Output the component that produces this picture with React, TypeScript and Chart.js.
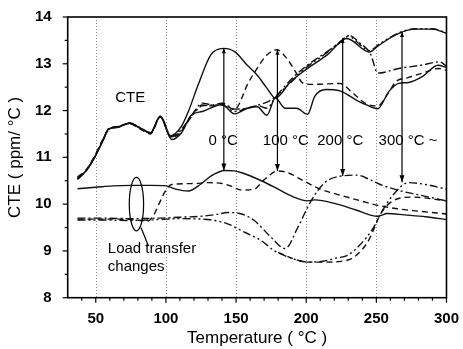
import { useEffect, useRef } from "react";
import { Chart, registerables } from "chart.js";

Chart.register(...registerables);

const FONT = "'Liberation Sans', Arial, Helvetica, sans-serif";

// Axis ticks
const xTickValues = [50, 100, 150, 200, 250, 300];
const gridTemps = [50, 100, 150, 200, 250];
const yTickValues = [8, 9, 10, 11, 12, 13, 14];

// CTE (ppm/°C) versus temperature (°C), one curve per holding condition
const cteRef: [number, number][] = [
  [37, 10.53], [43, 10.71], [49, 10.99], [55, 11.35], [59, 11.6], [66, 11.65], [74, 11.73],
  [82, 11.62], [89, 11.52], [96, 11.88], [104, 11.38], [111, 11.52], [118, 11.9], [126, 11.98],
  [140, 12.13], [149, 11.93], [158, 12.05], [165, 12.08], [172, 11.9], [178, 12.27], [185, 12.05],
  [193, 12.05], [201, 11.92], [206, 12.3], [214, 12.45], [224, 12.42], [236, 12.22], [243, 12.12],
  [251, 12.04], [259, 12.41], [266, 12.58], [273, 12.6], [283, 12.73], [294, 12.97], [300, 12.92],
];
const cte0: [number, number][] = [
  [37, 10.53], [43, 10.71], [49, 10.99], [55, 11.35], [59, 11.6], [66, 11.65], [74, 11.73],
  [82, 11.62], [89, 11.52], [96, 11.88], [103, 11.46], [111, 11.66], [116, 11.98], [123, 12.55],
  [132, 13.19], [141, 13.33], [149, 13.26], [158, 12.97], [165, 12.76], [172, 12.48], [178, 12.27],
  [189, 12.62], [200, 12.88], [215, 13.19], [229, 13.54], [245, 13.25], [252, 13.4], [266, 13.65],
  [278, 13.74], [290, 13.74], [300, 13.65],
];
const cte100: [number, number][] = [
  [37, 10.58], [43, 10.73], [49, 11.02], [55, 11.38], [59, 11.58], [66, 11.66], [74, 11.72],
  [82, 11.6], [89, 11.5], [96, 11.86], [104, 11.42], [111, 11.55], [118, 11.88], [126, 12.12],
  [133, 12.1], [140, 12.15], [149, 12.02], [152, 12.13], [158, 12.55], [165, 12.9], [172, 13.19],
  [179, 13.3], [186, 13.12], [192, 12.85], [198, 12.58], [205, 12.56], [224, 12.58], [233, 12.38],
  [243, 12.14], [251, 12.1], [258, 12.35], [264, 12.62], [272, 12.7], [285, 12.82], [294, 12.9],
  [300, 12.86],
];
const cte200: [number, number][] = [
  [37, 10.56], [43, 10.7], [49, 11.0], [55, 11.36], [59, 11.6], [66, 11.64], [74, 11.74],
  [82, 11.63], [89, 11.53], [96, 11.87], [104, 11.45], [111, 11.6], [118, 11.88], [126, 12.16],
  [133, 12.12], [140, 12.16], [149, 12.03], [158, 12.05], [166, 12.12], [172, 12.18], [178, 12.3],
  [189, 12.66], [200, 12.95], [214, 13.24], [224, 13.45], [231, 13.6], [238, 13.45], [246, 13.2],
  [251, 12.8], [266, 12.9], [282, 12.97], [295, 13.04], [300, 12.95],
];
const cte300: [number, number][] = [
  [37, 10.55], [43, 10.72], [49, 11.0], [55, 11.37], [59, 11.61], [66, 11.66], [74, 11.73],
  [82, 11.62], [89, 11.52], [96, 11.87], [104, 11.44], [111, 11.58], [118, 11.86], [126, 12.1],
  [140, 12.12], [149, 11.98], [158, 12.05], [166, 12.1], [172, 12.05], [178, 12.28], [189, 12.6],
  [200, 12.92], [214, 13.22], [226, 13.52], [230, 13.6], [236, 13.47], [245, 13.28], [252, 13.42],
  [266, 13.66], [278, 13.75], [290, 13.75], [300, 13.66],
];

// Load transfer curves
const load0: [number, number][] = [
  [37, 10.33], [50, 10.36], [62, 10.39], [75, 10.4], [90, 10.4], [100, 10.39], [107, 10.32],
  [116, 10.28], [125, 10.43], [132, 10.6], [142, 10.72], [149, 10.71], [154, 10.67], [168, 10.5],
  [180, 10.32], [189, 10.18], [201, 10.07], [206, 10.09], [222, 10.0], [235, 9.88], [251, 9.74],
  [258, 9.8], [270, 9.77], [285, 9.73], [300, 9.67],
];
const load100: [number, number][] = [
  [37, 9.68], [55, 9.68], [75, 9.67], [87, 9.64], [91, 9.75], [95, 10.0], [100, 10.3],
  [104, 10.42], [120, 10.44], [130, 10.46], [140, 10.44], [146, 10.39], [154, 10.3], [163, 10.32],
  [170, 10.52], [180, 10.71], [187, 10.67], [198, 10.5], [210, 10.32], [222, 10.21], [240, 10.06],
  [250, 9.98], [265, 9.9], [280, 9.85], [300, 9.79],
];
const load200: [number, number][] = [
  [37, 9.7], [55, 9.7], [75, 9.69], [95, 9.7], [110, 9.72], [125, 9.74], [136, 9.78], [144, 9.82],
  [154, 9.79], [163, 9.65], [175, 9.29], [185, 9.05], [194, 9.5], [201, 9.93], [208, 10.28],
  [215, 10.5], [225, 10.6], [236, 10.62], [245, 10.53], [252, 10.43], [265, 10.3], [280, 10.2],
  [300, 10.07],
];
const load300: [number, number][] = [
  [37, 9.66], [55, 9.66], [75, 9.65], [95, 9.67], [110, 9.69], [125, 9.68], [135, 9.65],
  [144, 9.58], [156, 9.4], [168, 9.22], [177, 9.01], [191, 8.83], [201, 8.76], [212, 8.78],
  [222, 8.85], [229, 8.9], [238, 9.12], [248, 9.5], [253, 9.79], [262, 10.2], [273, 10.46],
  [285, 10.42], [300, 10.32],
];
const load300b: [number, number][] = [
  [180, 8.97], [191, 8.83], [201, 8.76], [212, 8.76], [229, 8.8], [243, 9.15], [248, 9.45],
  [253, 9.79], [262, 10.07], [276, 10.15], [300, 10.07],
];

// Arrows from each CTE peak down to the matching load transfer peak
const arrowTemps = [141.3, 179.5, 226, 268.3];
const arrowTop = [13.33, 13.3, 13.55, 13.68];
const arrowBottom = [10.72, 10.71, 10.6, 10.47];

// Condition labels
const condLabels = ["0 °C", "100 °C", "200 °C", "300 °C ~"];
const condLabelX = [130.3, 169.1, 207.9, 251.6];
const condLabelY = 11.36;

const DASHED = [6, 4];
const DASH_DOT = [8, 3, 2, 3];
const DASH_DOT_DOT = [8, 3, 2, 3, 2, 3];

function series(points: [number, number][], dash: number[]) {
  return {
    data: points.map(([x, y]) => ({ x, y })),
    borderColor: "#111",
    borderWidth: 1.4,
    borderDash: dash,
    pointRadius: 0,
    fill: false,
    cubicInterpolationMode: "monotone" as const,
  };
}

const decorPlugin = {
  id: "decor",
  beforeDatasetsDraw(chart: any) {
    const { ctx, chartArea: a, scales } = chart;
    const x = scales.x;
    ctx.save();
    ctx.strokeStyle = "#888";
    ctx.lineWidth = 1;
    ctx.setLineDash([1, 2]);
    for (const t of gridTemps) {
      const px = Math.round(x.getPixelForValue(t)) + 0.5;
      ctx.beginPath();
      ctx.moveTo(px, a.top);
      ctx.lineTo(px, a.bottom);
      ctx.stroke();
    }
    ctx.restore();
  },
  afterDatasetsDraw(chart: any) {
    const { ctx, chartArea: a, scales } = chart;
    const x = scales.x;
    const y = scales.y;
    ctx.save();
    ctx.setLineDash([]);
    ctx.strokeStyle = "#000";
    ctx.fillStyle = "#000";

    // frame
    ctx.lineWidth = 1.6;
    ctx.strokeRect(a.left, a.top, a.right - a.left, a.bottom - a.top);

    // x ticks (major every 50, minor every 10)
    ctx.lineWidth = 1.2;
    for (let t = 40; t <= 300; t += 10) {
      const px = x.getPixelForValue(t);
      const len = t % 50 === 0 ? 5 : 3;
      ctx.beginPath();
      ctx.moveTo(px, a.bottom);
      ctx.lineTo(px, a.bottom + len);
      ctx.stroke();
    }
    // y ticks (major every 1, minor every 0.5)
    for (let v = 8; v <= 14.001; v += 0.5) {
      const py = y.getPixelForValue(v);
      const len = Math.abs(v - Math.round(v)) < 1e-6 ? 5 : 3;
      ctx.beginPath();
      ctx.moveTo(a.left, py);
      ctx.lineTo(a.left - len, py);
      ctx.stroke();
    }

    // arrows
    ctx.lineWidth = 1.2;
    arrowTemps.forEach((t, i) => {
      const px = x.getPixelForValue(t);
      const top = y.getPixelForValue(arrowTop[i]);
      const bot = y.getPixelForValue(arrowBottom[i]);
      ctx.beginPath();
      ctx.moveTo(px, top);
      ctx.lineTo(px, bot);
      ctx.stroke();
      ctx.beginPath();
      ctx.moveTo(px, bot);
      ctx.lineTo(px - 2.5, bot - 7);
      ctx.lineTo(px + 2.5, bot - 7);
      ctx.closePath();
      ctx.fill();
      ctx.beginPath();
      ctx.moveTo(px, top);
      ctx.lineTo(px - 2, top + 5);
      ctx.lineTo(px + 2, top + 5);
      ctx.closePath();
      ctx.fill();
    });

    // ellipse marking the load transfer jump
    const ex = x.getPixelForValue(79);
    const ey = y.getPixelForValue(10.0);
    const rx = x.getPixelForValue(79 + 5.1) - ex;
    const ry = ey - y.getPixelForValue(10.0 + 0.57);
    ctx.lineWidth = 1.2;
    ctx.beginPath();
    ctx.ellipse(ex, ey, rx, ry, 0, 0, Math.PI * 2);
    ctx.stroke();
    ctx.beginPath();
    ctx.moveTo(x.getPixelForValue(82.2), y.getPixelForValue(9.5));
    ctx.lineTo(x.getPixelForValue(87.5), y.getPixelForValue(9.11));
    ctx.stroke();

    // annotations
    ctx.font = `15px ${FONT}`;
    ctx.textBaseline = "middle";
    ctx.textAlign = "center";
    ctx.fillText("CTE", x.getPixelForValue(74.6), y.getPixelForValue(12.27));
    ctx.textAlign = "left";
    condLabels.forEach((s, i) => {
      ctx.fillText(s, x.getPixelForValue(condLabelX[i]), y.getPixelForValue(condLabelY));
    });
    ctx.fillText("Load transfer", x.getPixelForValue(58.6), y.getPixelForValue(9.05));
    ctx.fillText("changes", x.getPixelForValue(58.6), y.getPixelForValue(8.66));
    ctx.restore();
  },
};

export default function App() {
  const canvasRef = useRef<HTMLCanvasElement | null>(null);

  useEffect(() => {
    const canvas = canvasRef.current;
    if (!canvas) return;
    const tickFont = { family: FONT, size: 15, weight: "bold" as const };
    const chart = new Chart(canvas, {
      type: "line",
      data: {
        datasets: [
          series(cteRef, []),
          series(cte0, []),
          series(cte100, DASHED),
          series(cte200, DASH_DOT),
          series(cte300, DASH_DOT_DOT),
          series(load0, []),
          series(load100, DASHED),
          series(load200, DASH_DOT),
          series(load300, DASH_DOT_DOT),
          series(load300b, DASHED),
        ] as any,
      },
      options: {
        animation: false,
        responsive: false,
        maintainAspectRatio: false,
        layout: { padding: { top: 15, right: 12.3, left: 0, bottom: 0 } },
        plugins: {
          legend: { display: false },
          tooltip: { enabled: false },
        },
        scales: {
          x: {
            type: "linear",
            min: 30,
            max: 300,
            afterBuildTicks: (s: any) => {
              s.ticks = xTickValues.map((value) => ({ value }));
            },
            afterFit: (s: any) => {
              s.height = 51.3;
            },
            grid: { display: false },
            border: { display: false },
            ticks: { color: "#000", font: tickFont, padding: 4, maxRotation: 0, autoSkip: false },
            title: {
              display: true,
              text: "Temperature ( °C )",
              color: "#000",
              font: { family: FONT, size: 17, lineHeight: 1.2 },
              padding: { top: 0, bottom: 0 },
            },
          },
          y: {
            type: "linear",
            min: 8,
            max: 14,
            afterBuildTicks: (s: any) => {
              s.ticks = yTickValues.map((value) => ({ value }));
            },
            afterFit: (s: any) => {
              s.width = 67.7;
            },
            grid: { display: false },
            border: { display: false },
            ticks: { color: "#000", font: tickFont, padding: 8 },
            title: {
              display: true,
              text: "CTE ( ppm/ °C )",
              color: "#000",
              font: { family: FONT, size: 17, lineHeight: 1.2 },
              padding: { top: 5, bottom: 0 },
            },
          },
        },
      },
      plugins: [decorPlugin],
    });
    return () => chart.destroy();
  }, []);

  return (
    <div style={{ position: "fixed", left: 0, top: 0, width: 463, height: 349, background: "#fff" }}>
      <canvas ref={canvasRef} width={463} height={349} style={{ display: "block" }} />
    </div>
  );
}
